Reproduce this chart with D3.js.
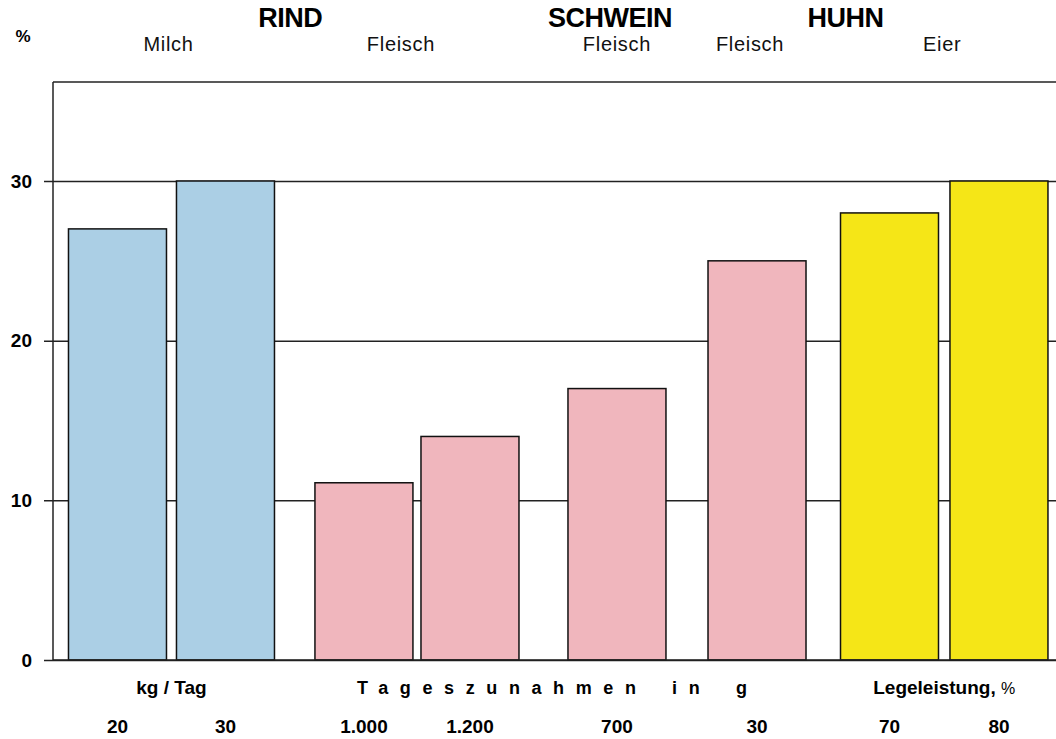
<!DOCTYPE html>
<html>
<head>
<meta charset="utf-8">
<script src="https://cdn.jsdelivr.net/npm/d3@7"></script>
<style>
  html, body { margin: 0; padding: 0; background: #fff; }
  svg { display: block; font-family: "Liberation Sans", Arial, sans-serif; }
</style>
</head>
<body>
<svg id="chart" width="1056" height="739"></svg>
<script>
// Protein yield per bar (%), one bar per production level
const values = [27, 30, 11.1, 14, 17, 25, 28, 30];
// Production level printed under each bar
const levelLabels = ["20", "30", "1.000", "1.200", "700", "30", "70", "80"];
// Position of each bar along the x axis, in bar-width units
const barSlots = [0.658, 1.760, 3.173, 4.255, 5.755, 7.184, 8.536, 9.653];
// Product each bar belongs to (index into productLabels)
const barProduct = [0, 0, 1, 1, 2, 3, 4, 4];
const productLabels = ["Milch", "Fleisch", "Fleisch", "Fleisch", "Eier"];
const productKind = ["Milch", "Fleisch", "Fleisch", "Fleisch", "Eier"];
// Animal headings and the products under each
const animals = ["RIND", "SCHWEIN", "HUHN"];
const animalProducts = [[0, 1], [2], [3, 4]];
// Unit captions and the bars they span
const unitLabels = ["kg / Tag", "Tageszunahmen in g", "Legeleistung, "];
const unitBars = [[0, 1], [2, 5], [6, 7]];
const yTicks = [0, 10, 20, 30];
const yMax = 36.2;

const kindColor = d3.scaleOrdinal()
  .domain(["Milch", "Fleisch", "Eier"])
  .range(["#abcfe5", "#f0b6bd", "#f5e617"]);

const svg = d3.select("#chart");
const plotLeft = 53, plotRight = 1056, plotTop = 82, plotBottom = 660;

const x = d3.scaleLinear().domain([0, 10.235]).range([plotLeft, plotRight]);
const y = d3.scaleLinear().domain([0, yMax]).range([plotBottom, plotTop]);
const barW = x(1) - x(0);

// small horizontal nudges for the heading texts (px)
const productNudge = [-3, -16, 0, -7, -2];
const animalNudge = [-4, -7, -5];

// frame: left axis and top border
svg.append("line").attr("x1", plotLeft).attr("x2", plotLeft).attr("y1", plotTop).attr("y2", plotBottom)
  .attr("stroke", "#222").attr("stroke-width", 1.5);
svg.append("line").attr("x1", plotLeft).attr("x2", plotRight).attr("y1", plotTop).attr("y2", plotTop)
  .attr("stroke", "#222").attr("stroke-width", 1.5);

// y axis with gridlines across the plot
const yAxis = d3.axisLeft(y).tickValues(yTicks).tickSize(-(plotRight - plotLeft)).tickPadding(21)
  .tickFormat(d3.format("d"));
const gy = svg.append("g").attr("transform", `translate(${plotLeft},0)`).call(yAxis);
gy.select(".domain").remove();
gy.selectAll(".tick line").attr("x1", -9).attr("stroke", "#222").attr("stroke-width", 1.5);
gy.selectAll(".tick text")
  .attr("fill", "#000").attr("font-size", 19).attr("font-weight", "bold")
  .attr("font-family", "Liberation Sans, Arial, sans-serif");

// bars
svg.append("g").selectAll("rect").data(values).join("rect")
  .attr("x", (d, i) => x(barSlots[i]) - barW / 2)
  .attr("width", barW)
  .attr("y", d => y(d))
  .attr("height", d => y(0) - y(d))
  .attr("fill", (d, i) => kindColor(productKind[barProduct[i]]))
  .attr("stroke", "#111").attr("stroke-width", 1.5);

// baseline drawn over the bars
svg.append("line").attr("x1", plotLeft).attr("x2", plotRight).attr("y1", y(0)).attr("y2", y(0))
  .attr("stroke", "#222").attr("stroke-width", 1.5);

// axis unit
svg.append("text").attr("x", 23).attr("y", 42).attr("text-anchor", "middle")
  .attr("font-size", 17).attr("font-weight", "bold").text("%");

// product centres from their bars
const productCenter = productLabels.map((p, k) => {
  const xs = barSlots.filter((s, i) => barProduct[i] === k).map(s => x(s));
  return d3.mean(xs);
});

svg.append("g").selectAll("text").data(productLabels).join("text")
  .attr("x", (d, k) => productCenter[k] + productNudge[k])
  .attr("y", 51)
  .attr("text-anchor", "middle")
  .attr("font-size", 20)
  .attr("letter-spacing", 0.7)
  .attr("fill", "#111")
  .text(d => d);

svg.append("g").selectAll("text").data(animals).join("text")
  .attr("x", (d, a) => d3.mean(animalProducts[a].map(k => productCenter[k])) + animalNudge[a])
  .attr("y", 27)
  .attr("text-anchor", "middle")
  .attr("font-size", 27)
  .attr("font-weight", "bold")
  .attr("letter-spacing", -0.5)
  .text(d => d);

// unit captions under the axis
const units = svg.append("g").selectAll("text").data(unitLabels).join("text")
  .attr("x", (d, u) => (x(barSlots[unitBars[u][0]]) + x(barSlots[unitBars[u][1]])) / 2)
  .attr("y", 694)
  .attr("text-anchor", "middle")
  .attr("font-size", 19)
  .attr("font-weight", "bold")
  .text(d => d);
units.filter((d, u) => u === 1)
  .attr("text-anchor", "start")
  .attr("x", 357)
  .attr("font-size", 18)
  .attr("letter-spacing", 11.6)
  .attr("word-spacing", 8);
units.filter((d, u) => u === 2)
  .append("tspan").attr("font-weight", "normal").attr("font-size", 16).text("%");

// production level under each bar
svg.append("g").selectAll("text").data(levelLabels).join("text")
  .attr("x", (d, i) => x(barSlots[i]))
  .attr("y", 733)
  .attr("text-anchor", "middle")
  .attr("font-size", 19)
  .attr("font-weight", "bold")
  .text(d => d);
</script>
</body>
</html>
